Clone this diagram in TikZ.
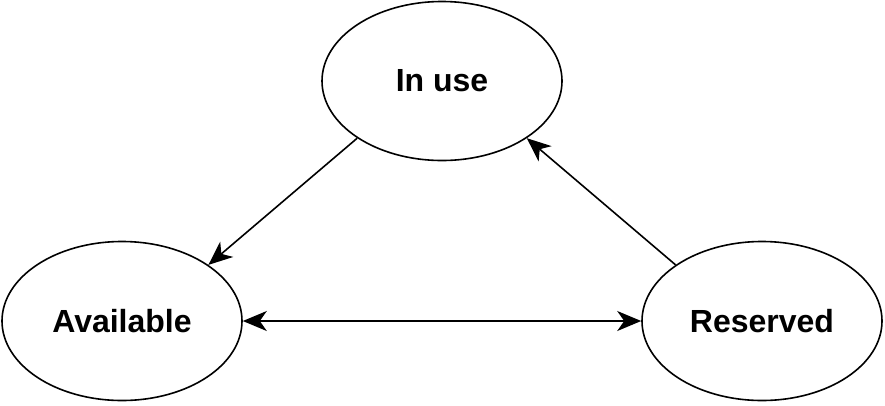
\documentclass[tikz,border=0pt]{standalone}
\usepackage{fontspec}
\setmainfont{Liberation Sans}
\usetikzlibrary{shapes.geometric,arrows.meta}
\tikzset{
  state/.style={ellipse,draw,line width=1.6pt,minimum width=240pt,minimum height=159pt,inner sep=0pt,
    font=\fontsize{32}{36}\selectfont\bfseries},
  arrowtip/.tip={Stealth[length=24pt,width=20pt,inset=7pt]},
  link/.style={line width=1.6pt,-arrowtip}
}
\begin{document}
\begin{tikzpicture}[x=1pt,y=-1pt]
\useasboundingbox (0,0) rectangle (885,405);
\node[state] (inuse) at (442,81) {In use};
\node[state] (avail) at (122,321) {Available};
\node[state] (resv) at (762,321) {Reserved};
\draw[link] (inuse.214) -- (avail.33);
\draw[link] (resv.147) -- (inuse.-34);
\draw[link,arrowtip-arrowtip] (avail) -- (resv);
\end{tikzpicture}
\end{document}
